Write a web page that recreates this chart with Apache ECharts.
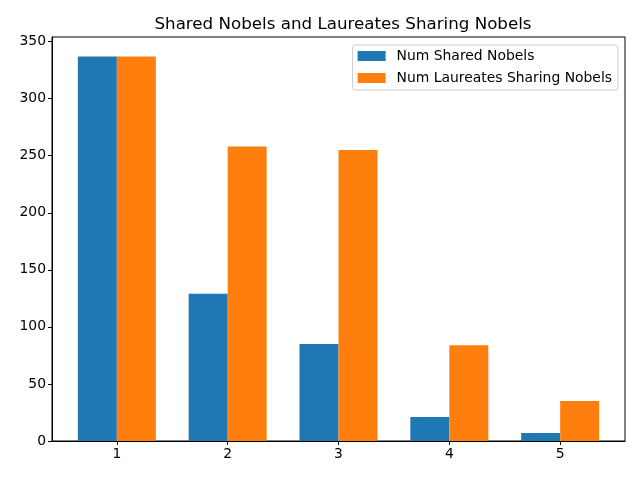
<!DOCTYPE html>
<html>
<head>
<meta charset="utf-8">
<script src="https://cdn.jsdelivr.net/npm/echarts@6/dist/echarts.min.js"></script>
<style>
html, body { margin: 0; padding: 0; background: #fff; }
#chart { width: 640px; height: 480px; }
</style>
</head>
<body>
<div id="chart"></div>
<script>
// data
var categories = [1, 2, 3, 4, 5];
var sharedNobels = [337, 129, 85, 21, 7];
var laureatesSharing = [337, 258, 255, 84, 35];
var seriesNames = ['Num Shared Nobels', 'Num Laureates Sharing Nobels'];
var yTicks = [0, 50, 100, 150, 200, 250, 300, 350];

var font = 'DejaVu Sans';
var myChart = echarts.init(document.getElementById('chart'));

function pairs(vals) {
	var out = [];
	for (var i = 0; i < categories.length; i++) {
		out.push([categories[i], vals[i]]);
	}
	return out;
}

var option = {
	animation: false,
	textStyle: { fontFamily: font },
	title: {
		text: 'Shared Nobels and Laureates Sharing Nobels',
		left: 338,
		top: 11,
		textAlign: 'center',
		textStyle: { fontFamily: font, fontSize: 16.7, fontWeight: 'normal', color: '#000' }
	},
	legend: {
		orient: 'vertical',
		right: 22,
		top: 45,
		itemWidth: 28,
		itemHeight: 10,
		itemGap: 8,
		padding: [4, 6, 5, 5],
		borderColor: '#cccccc',
		borderWidth: 1,
		borderRadius: 3,
		icon: 'rect',
		textStyle: { fontFamily: font, fontSize: 13.9, color: '#000', padding: [0, 0, 0, 6] },
		data: seriesNames
	},
	grid: {
		left: 52,
		right: 15,
		top: 37,
		bottom: 39,
		show: true,
		borderColor: '#000',
		borderWidth: 1
	},
	xAxis: {
		type: 'value',
		min: 0.415,
		max: 5.585,
		splitLine: { show: false },
		axisLine: { show: true, lineStyle: { color: '#000' } },
		axisTick: { show: true, length: 4, customValues: categories, lineStyle: { color: '#000' } },
		axisLabel: { customValues: categories, color: '#000', fontSize: 13.9, fontFamily: font, margin: 6 }
	},
	yAxis: {
		type: 'value',
		min: 0,
		max: 354,
		splitLine: { show: false },
		axisLine: { show: true, lineStyle: { color: '#000' } },
		axisTick: { show: true, length: 4, customValues: yTicks, lineStyle: { color: '#000' } },
		axisLabel: { customValues: yTicks, color: '#000', fontSize: 13.9, fontFamily: font, margin: 6 }
	},
	series: [{
		name: seriesNames[0],
		type: 'bar',
		barWidth: 39,
		barGap: '0%',
		itemStyle: { color: '#1f77b4', borderWidth: 0 },
		data: pairs(sharedNobels)
	}, {
		name: seriesNames[1],
		type: 'bar',
		barWidth: 39,
		barGap: '0%',
		itemStyle: { color: '#ff7f0e', borderWidth: 0 },
		data: pairs(laureatesSharing)
	}]
};
myChart.setOption(option);
window.onresize = myChart.resize;
</script>
</body>
</html>
